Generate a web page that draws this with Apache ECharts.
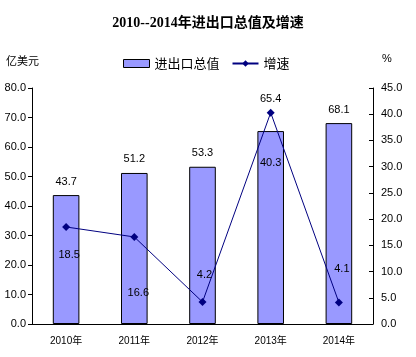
<!DOCTYPE html>
<html><head><meta charset="utf-8">
<script src="https://cdn.jsdelivr.net/npm/echarts@6/dist/echarts.min.js"></script>
<style>html,body{margin:0;padding:0;background:#fff}#c{width:416px;height:357px}</style>
</head><body><div id="c"></div>
<script>
const categories = ['2010年','2011年','2012年','2013年','2014年'];
const totalValues = [43.7, 51.2, 53.3, 65.4, 68.1];
const growthValues = [18.5, 16.6, 4.2, 40.3, 4.1];
const leftTicks = {min:0, max:80, interval:10};
const rightTicks = {min:0, max:45, interval:5};

const barLabelDistances = [8, 8, 8, 27, 8];
const lineLabelOffsets = [[3,28],[4,56],[2,-27],[0,50],[3,-34]];
const font = "'Liberation Sans', Arial, 'Noto Sans CJK SC', sans-serif";

const chart = echarts.init(document.getElementById('c'));
chart.setOption({
  animation:false,
  title:{text:'2010--2014年进出口总值及增速', left:'center', top:11,
    textStyle:{fontSize:14, fontWeight:'bold', color:'#000', fontFamily:"'Liberation Serif','Noto Sans CJK SC',serif"}},
  legend:{top:52, left:118, itemGap:12, itemWidth:26, itemHeight:8,
    textStyle:{fontSize:13, color:'#000', fontFamily:"'Noto Sans CJK SC',sans-serif"},
    data:[{name:'进出口总值', icon:'rect', itemStyle:{color:'#9999FF', borderColor:'#000', borderWidth:1}}, {name:'增速'}]},
  graphic:[
    {type:'text', left:6, top:55, style:{text:'亿美元', fill:'#000', font:"11px 'Noto Sans CJK SC',sans-serif"}},
    {type:'text', left:382, top:53, style:{text:'%', fill:'#000', font:"11px 'Liberation Sans',sans-serif"}}
  ],
  grid:{left:32, right:43, top:88, bottom:33},
  xAxis:{type:'category', data:categories,
    axisLine:{lineStyle:{color:'#000', width:1}},
    axisTick:{inside:true, length:4, lineStyle:{color:'#000'}},
    axisLabel:{fontSize:10, color:'#000', margin:12, fontFamily:font}},
  yAxis:[
    {type:'value', min:leftTicks.min, max:leftTicks.max, interval:leftTicks.interval,
     axisLine:{show:true, lineStyle:{color:'#000'}}, axisTick:{show:true, length:4, lineStyle:{color:'#000'}},
     splitLine:{show:false},
     axisLabel:{fontSize:11, color:'#000', margin:6, fontFamily:font, formatter:v=>v.toFixed(1)}},
    {type:'value', min:rightTicks.min, max:rightTicks.max, interval:rightTicks.interval, position:'right',
     axisLine:{show:true, lineStyle:{color:'#000'}}, axisTick:{show:true, inside:true, length:4, lineStyle:{color:'#000'}},
     splitLine:{show:false},
     axisLabel:{fontSize:11, color:'#000', margin:8, fontFamily:font, formatter:v=>v.toFixed(1)}}
  ],
  series:[
    {name:'进出口总值', type:'bar', barWidth:'39%',
     data:totalValues.map((v,i)=>({value:v, label:{distance:barLabelDistances[i]}})),
     itemStyle:{color:'#9999FF', borderColor:'#000', borderWidth:1},
     label:{show:true, position:'top', fontSize:11, color:'#000', fontFamily:font, formatter:p=>p.value.toFixed(1)}},
    {name:'增速', type:'line', yAxisIndex:1,
     data:growthValues.map((v,i)=>({value:v, label:{offset:lineLabelOffsets[i]}})),
     symbol:'diamond', symbolSize:8, lineStyle:{color:'#000080', width:1}, itemStyle:{color:'#000080'},
     label:{show:true, position:'inside', fontSize:11, color:'#000', fontFamily:font, formatter:p=>p.value.toFixed(1)}}
  ]
});
</script></body></html>
